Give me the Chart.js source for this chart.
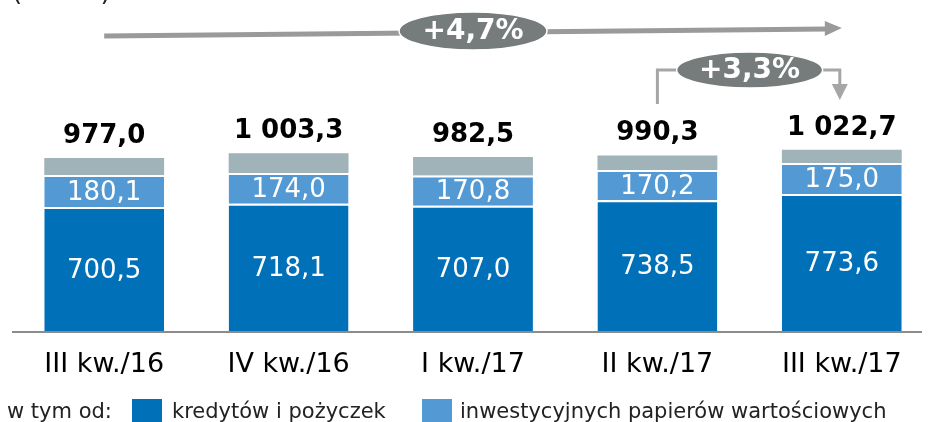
<!DOCTYPE html>
<html>
<head>
<meta charset="utf-8">
<script src="https://cdn.jsdelivr.net/npm/chart.js@4"></script>
<style>
html, body { margin: 0; padding: 0; background: #fff; overflow: hidden; }
#wrap { width: 935px; height: 422px; }
</style>
</head>
<body>
<div id="wrap"><canvas id="chart"></canvas></div>
<script>
// data (mld zł)
const quarters = ['III kw./16', 'IV kw./16', 'I kw./17', 'II kw./17', 'III kw./17'];
const loans = [700.5, 718.1, 707.0, 738.5, 773.6];
const securities = [180.1, 174.0, 170.8, 170.2, 175.0];
const other = [96.4, 111.2, 104.7, 81.6, 74.1];
const totals = [977.0, 1003.3, 982.5, 990.3, 1022.7];
const growthYear = '+4,7%';
const growthQuarter = '+3,3%';

const FONT = '"DejaVu Sans", Verdana, sans-serif';

function fmt(v) {
	let s = v.toFixed(1).replace('.', ',');
	let parts = s.split(',');
	parts[0] = parts[0].replace(/\B(?=(\d{3})+(?!\d))/g, ' ');
	return parts.join(',');
}

// labels inside bars, totals, arrows, legend
const overlay = {
	id: 'overlay',
	afterDraw(chart) {
		const ctx = chart.ctx;
		const area = chart.chartArea;
		const y0 = chart.scales.y.getPixelForValue(0);
		const bars = chart.getDatasetMeta(2).data;
		ctx.save();

		// axis line
		ctx.strokeStyle = '#8c8c8c';
		ctx.lineWidth = 2;
		ctx.beginPath();
		ctx.moveTo(area.left, y0 + 1);
		ctx.lineTo(922, y0 + 1);
		ctx.stroke();

		// values inside segments
		ctx.fillStyle = '#fff';
		ctx.font = '26px ' + FONT;
		ctx.textAlign = 'center';
		ctx.textBaseline = 'middle';
		[0, 1].forEach(di => {
			const ds = chart.data.datasets[di];
			chart.getDatasetMeta(di).data.forEach((bar, i) => {
				ctx.fillText(fmt(ds.data[i]), bar.x, (bar.y + 2 + bar.base) / 2 + 1);
			});
		});

		// totals
		ctx.fillStyle = '#000';
		ctx.font = 'bold 26px ' + FONT;
		bars.forEach((bar, i) => {
			ctx.fillText(fmt(totals[i]), bar.x, bar.y - 22);
		});

		// (mld zł) - cut at top
		ctx.font = '26px ' + FONT;
		ctx.textAlign = 'left';
		ctx.textBaseline = 'alphabetic';
		ctx.fillStyle = '#222';
		ctx.fillText('(mld zł)', 12, 0);

		// long arrow
		const xa = bars[0].x, xb = bars[4].x;
		ctx.strokeStyle = '#9a9a9a';
		ctx.fillStyle = '#9a9a9a';
		ctx.lineWidth = 5;
		ctx.beginPath();
		ctx.moveTo(xa, 36);
		ctx.lineTo(xb - 15, 29);
		ctx.stroke();
		ctx.beginPath();
		ctx.moveTo(xb - 17, 21);
		ctx.lineTo(xb, 28);
		ctx.lineTo(xb - 17, 36);
		ctx.closePath();
		ctx.fill();

		// bracket arrow
		const xl = bars[3].x, xr = bars[4].x - 2;
		ctx.strokeStyle = '#a6a6a6';
		ctx.fillStyle = '#a6a6a6';
		ctx.lineWidth = 3;
		ctx.beginPath();
		ctx.moveTo(xl, 104);
		ctx.lineTo(xl, 70);
		ctx.lineTo(xr, 70);
		ctx.lineTo(xr, 86);
		ctx.stroke();
		ctx.beginPath();
		ctx.moveTo(xr - 8, 84);
		ctx.lineTo(xr + 8, 84);
		ctx.lineTo(xr, 100);
		ctx.closePath();
		ctx.fill();

		// ellipses
		function badge(cx, cy, rx, ry, txt) {
			ctx.beginPath();
			ctx.ellipse(cx, cy, rx, ry, 0, 0, Math.PI * 2);
			ctx.fillStyle = '#767b7b';
			ctx.fill();
			ctx.strokeStyle = '#fff';
			ctx.lineWidth = 1.5;
			ctx.stroke();
			ctx.fillStyle = '#fff';
			ctx.font = 'bold 28px ' + FONT;
			ctx.textAlign = 'center';
			ctx.textBaseline = 'middle';
			ctx.fillText(txt, cx, cy + 1);
		}
		badge(bars[2].x, 31, 74, 19, growthYear);
		badge((xl + bars[4].x) / 2, 70, 73, 18, growthQuarter);

		// legend
		ctx.textAlign = 'left';
		ctx.textBaseline = 'alphabetic';
		ctx.font = '21px ' + FONT;
		ctx.fillStyle = '#222';
		ctx.fillText('w tym od:', 7, 418);
		ctx.fillStyle = chart.data.datasets[0].backgroundColor;
		ctx.fillRect(132, 399, 30, 30);
		ctx.fillStyle = '#222';
		ctx.fillText(chart.data.datasets[0].label, 172, 418);
		ctx.fillStyle = chart.data.datasets[1].backgroundColor;
		ctx.fillRect(422, 399, 30, 30);
		ctx.fillStyle = '#222';
		ctx.fillText(chart.data.datasets[1].label, 460, 418);

		ctx.restore();
	}
};

const chart = new Chart(document.getElementById('chart'), {
	type: 'bar',
	data: {
		labels: quarters,
		datasets: [{
			label: 'kredytów i pożyczek',
			data: loans,
			backgroundColor: '#0071b9',
			borderColor: '#fff',
			borderWidth: { top: 2, left: 0, right: 0, bottom: 0 },
			borderSkipped: false
		}, {
			label: 'inwestycyjnych papierów wartościowych',
			data: securities,
			backgroundColor: '#5399d4',
			borderColor: '#fff',
			borderWidth: { top: 2, left: 0, right: 0, bottom: 0 },
			borderSkipped: false
		}, {
			label: 'pozostałe',
			data: other,
			backgroundColor: '#a0b3b8',
			borderWidth: 0
		}]
	},
	options: {
		responsive: true,
		maintainAspectRatio: false,
		animation: false,
		layout: { padding: { left: 12, right: 1, top: 83, bottom: 22.6 } },
		datasets: { bar: { categoryPercentage: 1, barPercentage: 0.65 } },
		plugins: {
			legend: { display: false },
			tooltip: { enabled: false }
		},
		scales: {
			x: {
				stacked: true,
				grid: { display: false, drawTicks: false },
				border: { display: false },
				ticks: {
					color: '#000',
					padding: 18,
					maxRotation: 0,
					font: { family: FONT, size: 27, lineHeight: 1.2 }
				}
			},
			y: {
				stacked: true,
				display: false,
				min: 0,
				max: 1400
			}
		}
	},
	plugins: [overlay]
});
</script>
</body>
</html>
